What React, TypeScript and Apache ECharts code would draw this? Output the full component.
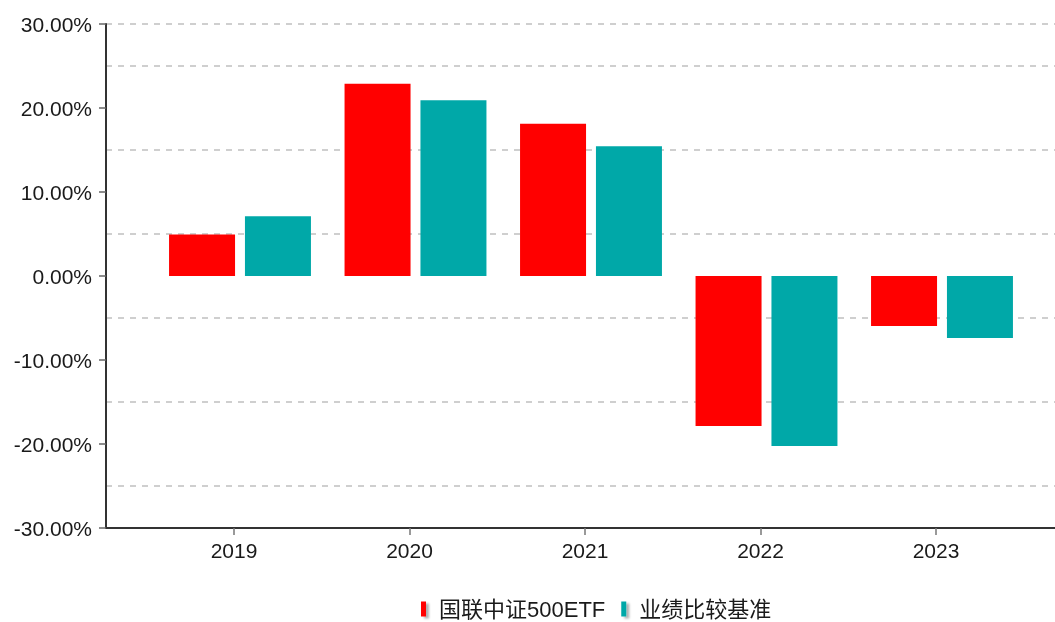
import React, { useEffect, useRef } from "react";
import * as echarts from "echarts";

const years = ["2019", "2020", "2021", "2022", "2023"];
const fundName = "国联中证500ETF";
const benchName = "业绩比较基准";
const fundReturns = [4.95, 22.9, 18.13, -17.86, -5.95];
const benchReturns = [7.1, 20.92, 15.44, -20.24, -7.38];
const yMin = -30;
const yMax = 30;
const yStep = 10;

const FONT = '"Liberation Sans", Arial, "Noto Sans CJK SC", sans-serif';

export default function App() {
  const ref = useRef<HTMLDivElement>(null);
  useEffect(() => {
    if (!ref.current) return;
    const chart = echarts.init(ref.current, undefined, { renderer: "svg" });
    const top = 24;
    const height = 504;
    const band = 175.5;
    const gridWidth = band * years.length;
    const clear = "rgba(0,0,0,0)";
    const splitColors = [clear, clear, clear, clear, clear, clear, "#cfcfcf"];
    chart.setOption({
      animation: false,
      textStyle: { fontFamily: FONT },
      grid: [
        { left: 106, top, height, width: 960 },
        { left: 146.25, top, height, width: gridWidth },
        { left: 152.25, top, height, width: gridWidth },
      ],
      xAxis: [
        {
          gridIndex: 0,
          type: "value",
          min: 0,
          max: 1,
          position: "bottom",
          axisLine: { show: true, onZero: false, lineStyle: { color: "#333", width: 2 } },
          axisTick: { show: false },
          axisLabel: { show: false },
          splitLine: { show: false },
        },
        {
          gridIndex: 1,
          type: "category",
          data: years,
          position: "bottom",
          axisLine: { show: false, onZero: false },
          axisTick: { show: true, alignWithLabel: true, length: 7, lineStyle: { color: "#777", width: 1.5 } },
          axisLabel: { fontSize: 21, color: "#1a1a1a", margin: 12, fontFamily: FONT },
          splitLine: { show: false },
        },
        {
          gridIndex: 2,
          type: "category",
          data: years,
          show: false,
        },
      ],
      yAxis: [
        {
          gridIndex: 0,
          type: "value",
          min: yMin,
          max: yMax,
          interval: yStep,
          axisLine: { show: true, lineStyle: { color: "#333", width: 2 } },
          axisTick: { show: true, length: 7, lineStyle: { color: "#666", width: 1.5 } },
          axisLabel: {
            fontSize: 21,
            color: "#1a1a1a",
            margin: 14,
            fontFamily: FONT,
            formatter: (v: number) => `${v.toFixed(2)}%`,
          },
          splitLine: { show: true, lineStyle: { color: splitColors, type: [6, 6], width: 2 } },
          minorTick: { show: false, splitNumber: 2 },
          minorSplitLine: { show: true, lineStyle: { color: "#cfcfcf", type: [6, 6], width: 2 } },
        },
        { gridIndex: 1, type: "value", min: yMin, max: yMax, show: false },
        { gridIndex: 2, type: "value", min: yMin, max: yMax, show: false },
      ],
      legend: {
        left: 421,
        top: 598,
        padding: 0,
        itemGap: 16,
        icon: "rect",
        itemWidth: 5,
        itemHeight: 15,
        itemStyle: { shadowColor: "rgba(0,0,0,0.3)", shadowOffsetX: 3, shadowOffsetY: 2, shadowBlur: 2 },
        data: [fundName, benchName],
        textStyle: {
          color: "#1a1a1a",
          fontSize: 22,
          fontFamily: FONT,
          padding: [0, 0, 0, 8],
        },
      },
      series: [
        {
          name: fundName,
          type: "bar",
          xAxisIndex: 2,
          yAxisIndex: 2,
          data: fundReturns,
          barWidth: 66,
          barGap: "15%",
          itemStyle: { color: "#FF0000" },
        },
        {
          name: benchName,
          type: "bar",
          xAxisIndex: 2,
          yAxisIndex: 2,
          data: benchReturns,
          barWidth: 66,
          barGap: "15%",
          itemStyle: { color: "#00A8A8" },
        },
      ],
    });
    return () => chart.dispose();
  }, []);
  return <div ref={ref} style={{ position: "fixed", left: 0, top: 0, width: 1055, height: 622 }} />;
}
